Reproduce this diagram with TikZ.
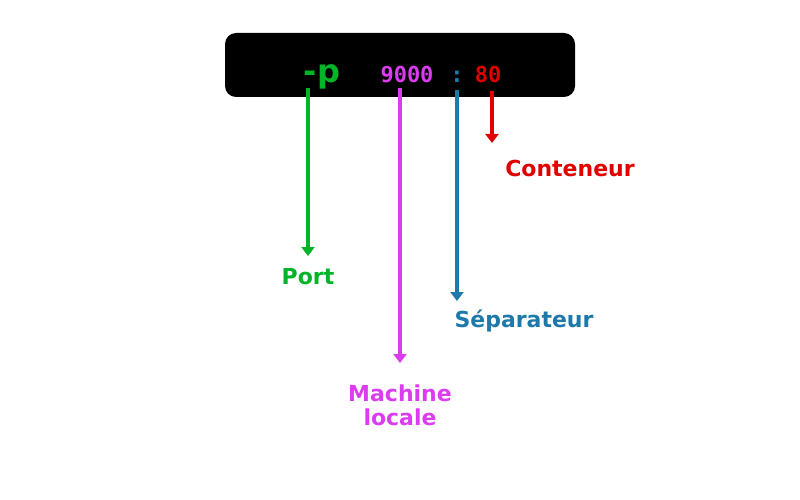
\documentclass[tikz,border=0pt]{standalone}
\usepackage{fontspec}
\usetikzlibrary{arrows.meta}
\setmainfont{DejaVu Sans}
\setmonofont{DejaVu Sans Mono}
\definecolor{colG}{RGB}{0,180,40}
\definecolor{colM}{RGB}{220,60,240}
\definecolor{colB}{RGB}{30,120,170}
\definecolor{colR}{RGB}{225,0,0}
\begin{document}
\begin{tikzpicture}[x=1pt,y=-1pt,
 lab/.style={font=\bfseries\fontsize{22}{24}\selectfont,align=center,inner sep=0},
 arr/.style={line width=4pt,-{Triangle[width=13pt,length=9pt]}}]
\useasboundingbox (0,0) rectangle (800,500);
\fill[black,rounded corners=11pt] (225,33) rectangle (575,97);
\node[font=\bfseries\fontsize{32}{32}\selectfont,text=colG,anchor=base] (p) at (322,83) {-p};
\node[font=\ttfamily\bfseries\fontsize{22}{22}\selectfont,text=colM,anchor=base] (m) at (407,83) {9000};
\node[font=\ttfamily\bfseries\fontsize{22}{22}\selectfont,text=colB,anchor=base] (s) at (457,83) {:};
\node[font=\ttfamily\bfseries\fontsize{22}{22}\selectfont,text=colR,anchor=base] (r) at (488,83) {80};
\node[lab,text=colG] (port) at (308,277) {Port};
\node[lab,text=colM] (mach) at (400,405) {Machine\\locale};
\node[lab,text=colB] (sep) at (524,321) {Séparateur};
\node[lab,text=colR] (cont) at (570,168) {Conteneur};
\coordinate (a1) at (308,88); \coordinate (b1) at (308,256);
\coordinate (a2) at (400,88); \coordinate (b2) at (400,363);
\coordinate (a3) at (457,90); \coordinate (b3) at (457,301);
\coordinate (a4) at (492,91); \coordinate (b4) at (492,143);
\draw[arr,color=colG] (a1) -- (b1);
\draw[arr,color=colM] (a2) -- (b2);
\draw[arr,color=colB] (a3) -- (b3);
\draw[arr,color=colR] (a4) -- (b4);
\end{tikzpicture}
\end{document}
